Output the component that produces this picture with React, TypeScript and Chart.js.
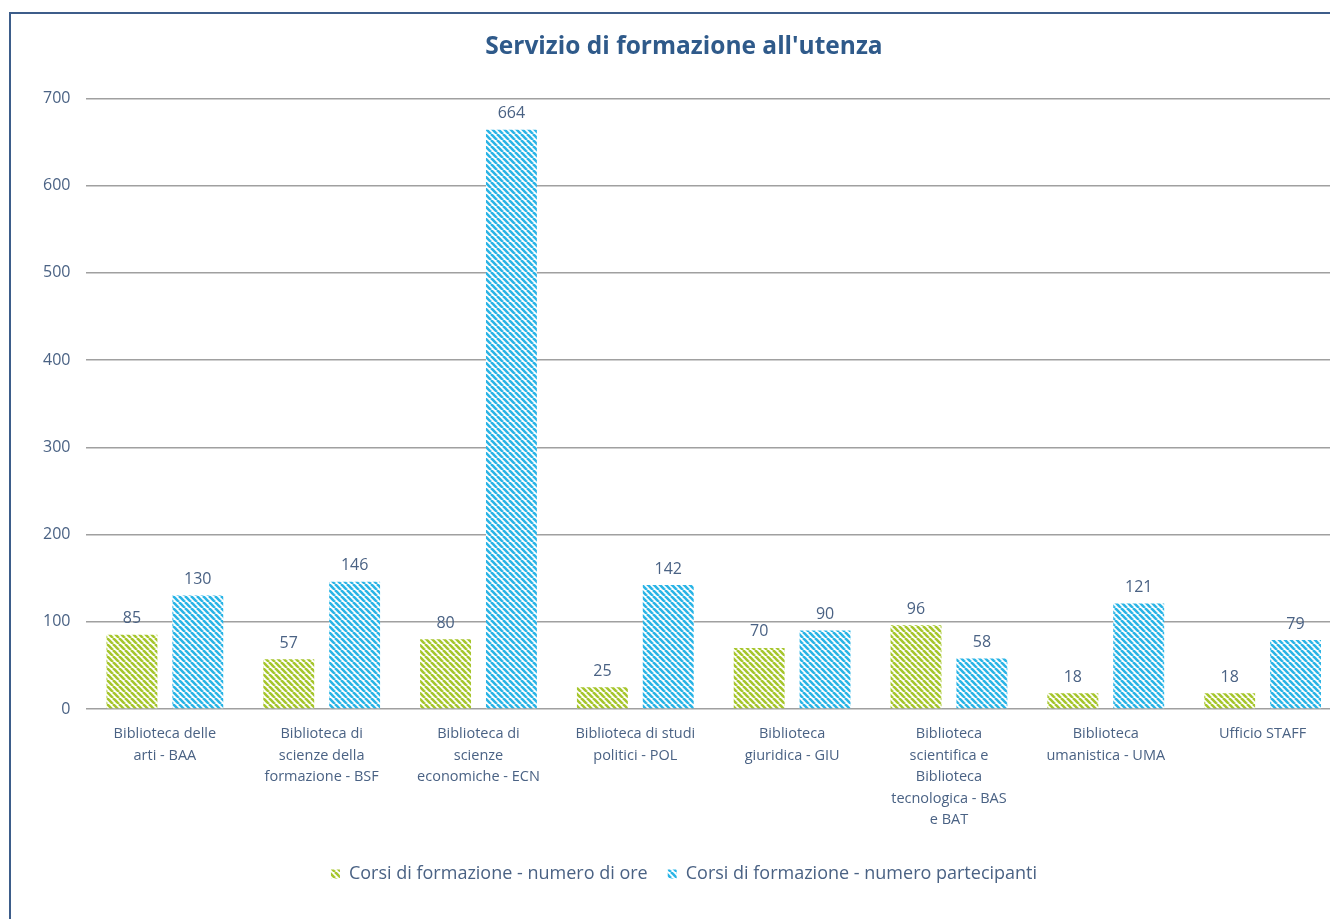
import React, { useEffect, useRef } from "react";
import { Chart, registerables } from "chart.js";

Chart.register(...registerables);

const categories: string[][] = [
  ["Biblioteca delle", "arti - BAA"],
  ["Biblioteca di", "scienze della", "formazione - BSF"],
  ["Biblioteca di", "scienze", "economiche - ECN"],
  ["Biblioteca di studi", "politici - POL"],
  ["Biblioteca", "giuridica - GIU"],
  ["Biblioteca", "scientifica e", "Biblioteca", "tecnologica - BAS", "e BAT"],
  ["Biblioteca", "umanistica - UMA"],
  ["Ufficio STAFF"],
];

const oreValues = [85, 57, 80, 25, 70, 96, 18, 18];
const partecipantiValues = [130, 146, 664, 142, 90, 58, 121, 79];

const seriesNames = [
  "Corsi di formazione - numero di ore",
  "Corsi di formazione - numero partecipanti",
];

const yTicks = [0, 100, 200, 300, 400, 500, 600, 700];

const TEXT = "#4a6284";
const FONT = "'Open Sans', 'DejaVu Sans', sans-serif";

function makePattern(color: string): CanvasPattern | string {
  const s = 6;
  const c = document.createElement("canvas");
  c.width = s;
  c.height = s;
  const g = c.getContext("2d");
  if (!g) return color;
  g.fillStyle = "#ffffff";
  g.fillRect(0, 0, s, s);
  g.strokeStyle = color;
  g.lineWidth = 2.6;
  for (const o of [-s, 0, s]) {
    g.beginPath();
    g.moveTo(o, 0);
    g.lineTo(o + s, s);
    g.stroke();
  }
  const p = g.createPattern(c, "repeat");
  return p || color;
}

const valueLabels = {
  id: "valueLabels",
  afterDatasetsDraw(chart: any) {
    const ctx = chart.ctx;
    ctx.save();
    ctx.font = `16px ${FONT}`;
    ctx.fillStyle = TEXT;
    ctx.textAlign = "center";
    ctx.textBaseline = "middle";
    chart.data.datasets.forEach((ds: any, i: number) => {
      const meta = chart.getDatasetMeta(i);
      meta.data.forEach((bar: any, j: number) => {
        ctx.fillText(String(ds.data[j]), bar.x, bar.y - 16);
      });
    });
    ctx.restore();
  },
};

export default function App() {
  const ref = useRef<HTMLCanvasElement | null>(null);

  useEffect(() => {
    if (!ref.current) return;
    const green = makePattern("#a6c62c");
    const blue = makePattern("#2ab4e6");
    const chart = new Chart(ref.current, {
      type: "bar",
      data: {
        labels: categories,
        datasets: [
          {
            label: seriesNames[0],
            data: oreValues,
            backgroundColor: green as any,
            categoryPercentage: 0.84,
            barPercentage: 0.773,
          },
          {
            label: seriesNames[1],
            data: partecipantiValues,
            backgroundColor: blue as any,
            categoryPercentage: 0.84,
            barPercentage: 0.773,
          },
        ],
      },
      options: {
        responsive: false,
        animation: false,
        devicePixelRatio: 1,
        layout: { padding: { left: 16, right: 15, top: 0, bottom: 26 } },
        plugins: {
          title: {
            display: true,
            text: "Servizio di formazione all'utenza",
            color: "#2f5a8a",
            font: { family: FONT, size: 24.5, weight: "bold" },
            padding: { top: 18, bottom: 37 },
          },
          legend: {
            position: "bottom",
            labels: {
              color: TEXT,
              font: { family: FONT, size: 18 },
              boxWidth: 9,
              boxHeight: 9,
              padding: 20,
            },
          },
          tooltip: { enabled: false },
        },
        scales: {
          x: {
            grid: { display: false },
            border: { display: false },
            afterFit: (axis: any) => {
              axis.height += 8;
            },
            ticks: {
              color: TEXT,
              font: { family: FONT, size: 14.5, lineHeight: 1.49 },
              maxRotation: 0,
              autoSkip: false,
              padding: 6,
            },
          },
          y: {
            min: 0,
            max: 700,
            afterBuildTicks: (axis: any) => {
              axis.ticks = yTicks.map((v) => ({ value: v }));
            },
            grid: { color: "#a0a0a0", lineWidth: 1.5, drawTicks: false },
            border: { display: false },
            ticks: {
              color: TEXT,
              font: { family: FONT, size: 16 },
              padding: 16,
            },
          },
        },
      },
      plugins: [valueLabels],
    });
    return () => chart.destroy();
  }, []);

  return (
    <div
      style={{
        position: "fixed",
        left: 0,
        top: 0,
        width: 1330,
        height: 919,
        overflow: "hidden",
        background: "#ffffff",
      }}
    >
      <div
        style={{
          position: "absolute",
          left: 9,
          top: 12,
          width: 1345,
          height: 920,
          border: "2px solid #3d5d8a",
          background: "#ffffff",
        }}
      >
        <canvas ref={ref} width={1345} height={905} style={{ display: "block" }} />
      </div>
    </div>
  );
}
